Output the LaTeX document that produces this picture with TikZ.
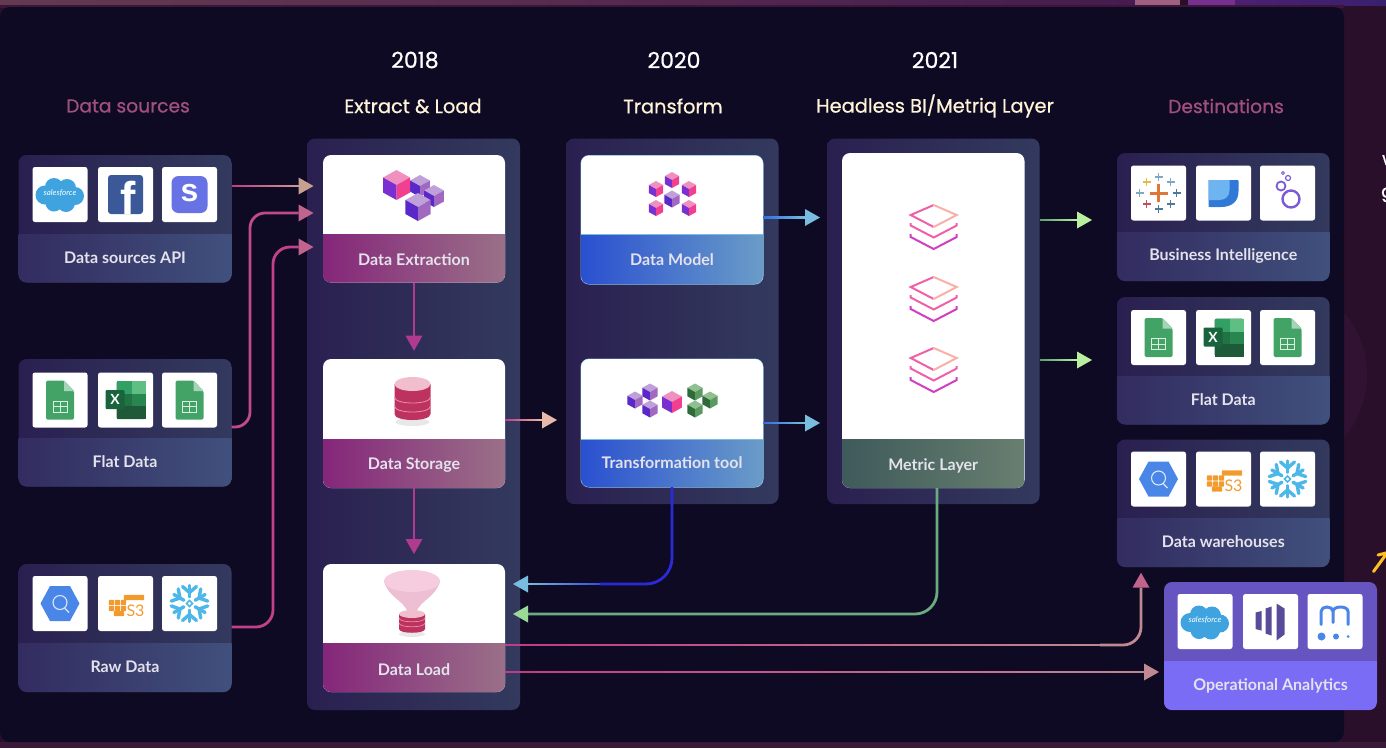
\documentclass[tikz,border=0pt]{standalone}
\usepackage{fontspec}
\usetikzlibrary{arrows.meta,calc,shapes.geometric}
\setmainfont{Lato}
\newfontfamily\headfont[RawFeature={embolden=0.7}]{Poppins}
\newcommand{\sz}[1]{\fontsize{#1}{#1}\selectfont}
\definecolor{bgmain}{HTML}{0F0A24}
\definecolor{bgout}{HTML}{2A0F2A}
\definecolor{panL}{HTML}{2A2050}
\definecolor{panR}{HTML}{333A5E}
\definecolor{capL}{HTML}{332C60}
\definecolor{capR}{HTML}{40507C}
\definecolor{mauve}{HTML}{A0507F}
\definecolor{cream}{HTML}{FFF4D8}
\definecolor{magL}{HTML}{85267A}
\definecolor{magR}{HTML}{9A7088}
\definecolor{bluL}{HTML}{2A50D0}
\definecolor{bluR}{HTML}{6A9CC8}
\definecolor{metL}{HTML}{3E5A5A}
\definecolor{metR}{HTML}{687F70}
\definecolor{opT}{HTML}{6655C0}
\definecolor{opB}{HTML}{7B6CF5}
\definecolor{labc}{HTML}{E4E2EC}
\definecolor{pinkA}{HTML}{C23A88}
\definecolor{pinkB}{HTML}{C8A090}
\definecolor{pinkC}{HTML}{C0648E}
\definecolor{pinkD}{HTML}{B03A90}
\definecolor{peach}{HTML}{E8B8A8}
\definecolor{dusty}{HTML}{C08890}
\definecolor{skyA}{HTML}{3070E0}
\definecolor{skyB}{HTML}{78BCE0}
\definecolor{grnA}{HTML}{5AA070}
\definecolor{grnB}{HTML}{B8F0A0}
\definecolor{grnC}{HTML}{9AD898}
\definecolor{grnD}{HTML}{6AAC80}
\definecolor{indg}{HTML}{2A2AD8}
\definecolor{indm}{HTML}{3A50E0}
\definecolor{sfblue}{HTML}{3FA3E0}
\definecolor{gsheet}{HTML}{43A366}
\definecolor{gsheetl}{HTML}{A5D4B6}
\definecolor{gridc}{HTML}{D9EFE0}
\definecolor{snow}{HTML}{4CB8EA}
\definecolor{awsor}{HTML}{F29A2E}
\definecolor{bqblue}{HTML}{4A86E8}
\definecolor{bqline}{HTML}{DCE8FB}
\definecolor{lookv}{HTML}{7A5BD8}
\definecolor{mktv}{HTML}{5A4A9A}
\definecolor{fbblue}{HTML}{3B5998}
\definecolor{stripev}{HTML}{6772E5}
\definecolor{dbred}{HTML}{BE325F}
\definecolor{dbtop}{HTML}{F0BECD}
\definecolor{dbline}{HTML}{E890AC}
\definecolor{shadowg}{HTML}{E8E8E8}
\definecolor{fn1}{HTML}{EEBED2}
\definecolor{fn2}{HTML}{F5CDDE}
\definecolor{xl1}{HTML}{217346}
\definecolor{xl2}{HTML}{5FBE82}
\definecolor{xl3}{HTML}{32A064}
\definecolor{xl4}{HTML}{288750}
\definecolor{xl5}{HTML}{1E5A37}
\definecolor{xl6}{HTML}{19643C}
\definecolor{ds1}{HTML}{3278D7}
\definecolor{ds2}{HTML}{6EB4F0}
\definecolor{taO}{HTML}{E0773A}
\definecolor{taY}{HTML}{E8B84A}
\definecolor{taB}{HTML}{7FA8C4}
\definecolor{taN}{HTML}{4F7899}
\definecolor{taR}{HTML}{C0505A}
\definecolor{stk1}{HTML}{F060A8}
\definecolor{stk2}{HTML}{D040C0}
\definecolor{stk3}{HTML}{F8B0A8}
\definecolor{yarrow}{HTML}{FFC020}
\tikzset{
  box/.style={inner sep=0pt,outer sep=0pt,rounded corners=8pt,draw=none},
  panelbox/.style={box,left color=panL,right color=panR},
  whitebox/.style={box,fill=white},
  opbox/.style={box,fill=opT},
  tile/.style={inner sep=0pt,outer sep=0pt,rounded corners=2.5pt,fill=white,minimum width=55pt,minimum height=55pt},
  caplab/.style={inner sep=0pt,text=labc,font=\bfseries\sz{16}},
  yearlab/.style={inner sep=0pt,text=white,font=\headfont\sz{22}},
  stagelab/.style={inner sep=0pt,text=cream,font=\headfont\sz{19.4}},
  endlab/.style={inner sep=0pt,text=mauve,font=\headfont\sz{18.7}},
  conn/.style={line width=2.8pt,-{Triangle[length=15pt,width=17pt,line width=0pt,color=#1,fill=#1]}},
  cable/.style={line width=2.8pt},
  capsrc/.style={left color=capL,right color=capR},
  capmag/.style={left color=magL,right color=magR},
  capblu/.style={left color=bluL,right color=bluR},
  capmet/.style={left color=metL,right color=metR},
  capop/.style={fill=opB},
}
\newcommand{\capdy}{.5}
% {name}{x1}{y1}{x2}{y2}{style}
\newcommand{\rbox}[6]{\node[#6,minimum width={(#4-#2)*1pt},minimum height={(#5-#3)*1pt}] (#1) at ({(#2+#4)/2},{(#3+#5)/2}) {};}
% {name}{x1}{y1}{x2}{y2}{ysplit}{body style}{caption style}{text}
\newcommand{\card}[9]{%
  \rbox{#1}{#2}{#3}{#4}{#5}{#7}
  \begin{scope}
    \clip[rounded corners=8pt] (#2,#3) rectangle (#4,#5);
    \path[#8] (#2,#6) rectangle (#4,#5);
  \end{scope}
  \node[caplab] (#1-cap) at ({(#2+#4)/2},{(#6+#5)/2+\capdy}) {#9};
}
\newcommand{\tileat}[3]{\node[tile] (#1) at (#2,#3) {};}
% straight gradient connector piece
\newcommand{\gradseg}[4]{%
  \foreach \i in {0,...,19}{%
    \pgfmathsetmacro{\mixv}{\i*5}
    \pgfmathsetmacro{\ta}{\i/20}\pgfmathsetmacro{\tb}{min((\i+1.7)/20,1)}
    \colorlet{segc}{#4!\mixv!#3}
    \draw[cable,segc] ($(#1)!\ta!(#2)$) -- ($(#1)!\tb!(#2)$);
  }%
}
% {from}{tip}{colA}{colB}: gradient line with an arrowhead
\newcommand{\gradarrow}[4]{%
  \coordinate (gx) at ($(#2)!16pt!(#1)$);
  \gradseg{#1}{gx}{#3}{#4}
  \draw[conn=#4,#4] (gx) -- (#2);
}
% iso cube {cx}{cy}{s}{top}{left}{right}
\newcommand{\cube}[6]{%
  \fill[#4] (#1,#2-#3) -- (#1+#3*.9,#2-#3*.5) -- (#1,#2) -- (#1-#3*.9,#2-#3*.5) -- cycle;
  \fill[#5] (#1-#3*.9,#2-#3*.5) -- (#1,#2) -- (#1,#2+#3) -- (#1-#3*.9,#2+#3*.5) -- cycle;
  \fill[#6] (#1+#3*.9,#2-#3*.5) -- (#1,#2) -- (#1,#2+#3) -- (#1+#3*.9,#2+#3*.5) -- cycle;
}
\definecolor{cubT}{HTML}{F090C0}\definecolor{cubL}{HTML}{7A30D0}\definecolor{cubR}{HTML}{F0408F}
\definecolor{cuvT}{HTML}{C0A0D8}\definecolor{cuvL}{HTML}{5A28C8}\definecolor{cuvR}{HTML}{A068C0}
\definecolor{cugT}{HTML}{90C090}\definecolor{cugL}{HTML}{2E6A3A}\definecolor{cugR}{HTML}{5A9A60}
\newcommand{\pinkcube}[3]{\cube{#1}{#2}{#3}{cubT}{cubL}{cubR}}
\newcommand{\violcube}[3]{\cube{#1}{#2}{#3}{cuvT}{cuvL}{cuvR}}
\newcommand{\greencube}[3]{\cube{#1}{#2}{#3}{cugT}{cugL}{cugR}}
% icons, centred
\newcommand{\icsales}[2]{\begin{scope}[shift={(#1,#2)}]
  \fill[sfblue] (-15,1) circle (9.5) (-6,-7) circle (9) (7,-6) circle (9) (15,2) circle (9) (6,9) circle (9) (-6,9) circle (8.5) (0,1) circle (12);
  \node[inner sep=0pt,text=white,font=\itshape\sz{8}] at (0,-1) {salesforce};
\end{scope}}
\newcommand{\icfb}[2]{\begin{scope}[shift={(#1,#2)}]
  \fill[fbblue,rounded corners=3pt] (-17.5,-19.5) rectangle (17.5,19.5);
  \begin{scope}
  \clip[rounded corners=3pt] (-17.5,-19.5) rectangle (17.5,19.5);
  \node[inner sep=0pt,text=white,font=\fontspec{Liberation Sans}\bfseries\sz{46}] at (3,3.5) {f};
  \end{scope}
\end{scope}}
\newcommand{\icstripe}[2]{\begin{scope}[shift={(#1,#2)}]
  \fill[stripev,rounded corners=7pt] (-18,-18.5) rectangle (18,18.5);
  \node[inner sep=0pt,text=white,font=\fontspec{Liberation Sans}\bfseries\sz{32}] at (0,-1) {s};
\end{scope}}
\newcommand{\icsheet}[2]{\begin{scope}[shift={(#1,#2)}]
  \fill[gsheet,rounded corners=1.5pt] (-14,-19.5) -- (4,-19.5) -- (14,-9) -- (14,19.5) -- (-14,19.5) -- cycle;
  \fill[gsheetl] (4,-19.5) -- (14,-9) -- (4,-9) -- cycle;
  \draw[gridc,line width=1pt] (-7,1) rectangle (7,12) (-7,6.5) -- (7,6.5) (0,1) -- (0,12);
\end{scope}}
\newcommand{\icexcel}[2]{\begin{scope}[shift={(#1,#2)}]
  \fill[xl1,rounded corners=1.5pt] (-9,-19) rectangle (20,19);
  \fill[xl2] (6,-19) rectangle (20,-6);
  \fill[xl3] (-9,-19) rectangle (6,-6);
  \fill[xl4] (6,-6) rectangle (20,6);
  \fill[xl5] (-9,6) rectangle (20,19);
  \fill[xl6,rounded corners=1pt] (-20,-10) rectangle (-1,9);
  \node[inner sep=0pt,text=white,font=\bfseries\sz{14}] at (-10.5,-.5) {X};
\end{scope}}
\newcommand{\icbq}[2]{\begin{scope}[shift={(#1,#2)}]
  \fill[bqblue] (-19.5,0) -- (-10,-17.5) -- (10,-17.5) -- (19.5,0) -- (10,17.5) -- (-10,17.5) -- cycle;
  \draw[bqline,line width=1.1pt] (0,-1) circle (7) (5,5) -- (9,9);
\end{scope}}
\newcommand{\icsthree}[2]{\begin{scope}[shift={(#1,#2)}]
  \foreach \xx/\yy in {1/-6,6/-6,11/-6,16/-6,-14/-1,-8/-1,-2/-1,-14/5,-8/5,-2/5,-9/10,-4/10}{\fill[awsor,rounded corners=.8pt] (\xx-2.7,\yy-2.7) rectangle (\xx+2.7,\yy+2.7);}
  \node[inner sep=0pt,text=awsor,font=\sz{16}] at (10,7) {S3};
\end{scope}}
\newcommand{\icsnow}[2]{\begin{scope}[shift={(#1,#2)}]
  \foreach \a in {30,90,...,330}{%
    \draw[snow,line width=3.4pt,line cap=round,rotate=\a] (6.5,0) -- (18,0);
    \draw[snow,line width=3.4pt,line cap=round,rotate=\a] (17,-7) -- (11,0) -- (17,7);}
  \fill[white] (-5.5,0) -- (0,-5.5) -- (5.5,0) -- (0,5.5) -- cycle;
  \draw[snow,line width=1.6pt] (-3,0) -- (0,-3) -- (3,0) -- (0,3) -- cycle;
\end{scope}}
\newcommand{\plusmk}[3]{\draw[#3,line width=1.6pt] (#1-4,#2) -- (#1+4,#2) (#1,#2-4) -- (#1,#2+4);}
\newcommand{\ictab}[2]{\begin{scope}[shift={(#1,#2)}]
  \draw[taO,line width=3pt] (-9,0) -- (9,0) (0,-9) -- (0,9);
  \plusmk{-12}{-11}{taY}
  \plusmk{12}{-11}{taB}
  \plusmk{0}{-16}{taB}
  \plusmk{-19}{0}{taB}
  \plusmk{18}{0}{taN}
  \plusmk{-12}{11}{taR}
  \plusmk{12}{11}{taN}
  \plusmk{0}{16}{taN}
\end{scope}}
\newcommand{\icds}[2]{\begin{scope}[shift={(#1,#2)}]
  \fill[ds1] (-15,-13) -- (14,-13) .. controls (15,-13) and (15,-13) .. (15,-12) -- (15,-2) .. controls (15,9) and (8,14) .. (-3,14) -- (-13,14) .. controls (-15,14) and (-15,14) .. (-15,12) -- cycle;
  \fill[ds2] (-15,-13) -- (6,-13) -- (6,-3) .. controls (6,3) and (2,7) .. (-4,7) -- (-15,7) -- cycle;
\end{scope}}
\newcommand{\iclook}[2]{\begin{scope}[shift={(#1,#2)}]
  \draw[lookv,line width=2.4pt] (3.5,6) circle (8.5);
  \draw[lookv,line width=1.8pt] (-6.5,-7) circle (4.5);
  \draw[lookv,line width=1.2pt] (.5,-15) circle (2.5);
  \draw[lookv,line width=.8pt] (-4.5,-20) circle (1.5);
\end{scope}}
\newcommand{\icmkt}[2]{\begin{scope}[shift={(#1,#2)}]
  \fill[mktv] (-15,-9) -- (-9,-10.5) -- (-9,9) -- (-15,7.5) -- cycle;
  \fill[mktv] (-5,-13) -- (1,-15) -- (1,14) -- (-5,12) -- cycle;
  \fill[mktv] (6,-18) -- (14,-13) -- (14,13) -- (6,19) -- cycle;
\end{scope}}
\newcommand{\icmeta}[2]{\begin{scope}[shift={(#1,#2)}]
  \draw[bqblue,line width=3pt,line cap=round] (-14,3) -- (-14,-10) .. controls (-14,-16) and (-2,-16) .. (-2,-10) -- (-2,1) (-2,-10) .. controls (-2,-16) and (13,-16) .. (13,-10) -- (13,3);
  \fill[bqblue] (-13.5,15) circle (4) (1,15) circle (3) (13,15) circle (1.5);
\end{scope}}
\newcommand{\icstack}[2]{\begin{scope}[shift={(#1,#2)}]
  \draw[stk1,line width=2pt] (0,-23) -- (-23,-13) -- (0,-1);
  \draw[stk3,line width=2pt,line cap=round] (0,-23) -- (23,-13) -- (0,-1);
  \draw[stk1,line width=2pt] (-23,-5) -- (-23,-2.5) -- (0,9.5) -- (23,-2.5) -- (23,-5);
  \draw[stk2,line width=2pt] (-23,6) -- (-23,9) -- (0,21) -- (23,9) -- (23,6);
\end{scope}}
\newcommand{\icdb}[2]{\begin{scope}[shift={(#1,#2)}]
  \fill[shadowg] (0,24) ellipse (17 and 4);
  \fill[dbred] (-18,-14) -- (18,-14) -- (18,16) .. controls (18,24) and (-18,24) .. (-18,16) -- cycle;
  \draw[dbline,line width=.8pt] (-18,-1) .. controls (-18,7) and (18,7) .. (18,-1) (-18,8) .. controls (-18,16) and (18,16) .. (18,8);
  \fill[dbtop] (0,-14) ellipse (18 and 7);
\end{scope}}
\newcommand{\icfunnel}[2]{\begin{scope}[shift={(#1,#2)}]
  \fill[shadowg] (0,37) ellipse (13 and 3);
  \fill[dbred] (-13,17) -- (13,17) -- (13,32) .. controls (13,37) and (-13,37) .. (-13,32) -- cycle;
  \draw[dbline,line width=.7pt] (-13,21) .. controls (-13,26) and (13,26) .. (13,21) (-13,26) .. controls (-13,31) and (13,31) .. (13,26);
  \fill[dbtop] (0,17) ellipse (13 and 4);
  \fill[fn1] (-28,-16) .. controls (-24,0) and (-10,2) .. (-4,15) -- (4,15) .. controls (10,2) and (24,0) .. (28,-16) -- cycle;
  \fill[fn2] (0,-16) ellipse (28 and 11);
\end{scope}}
\begin{document}
\begin{tikzpicture}[x=1pt,y=-1pt]
\useasboundingbox (0,0) rectangle (1386,748);
\begin{scope}
\clip (0,0) rectangle (1386,748);
\fill[bgout] (0,0) rectangle (1386,748);
% faint background blobs
\fill[fill={rgb,255:red,50;green,18;blue,50}] (1270,375) circle (97);
\fill[fill={rgb,255:red,40;green,14;blue,42}] (1270,375) circle (60);
\fill[fill={rgb,255:red,58;green,26;blue,56}] (0,742) rectangle (1386,748);
\shade[left color={rgb,255:red,100;green,58;blue,80},right color={rgb,255:red,70;green,28;blue,80}] (0,0) rectangle (1135,5);
\fill[fill={rgb,255:red,160;green,96;blue,128}] (1135,0) rectangle (1180,5);
\fill[fill={rgb,255:red,120;green,48;blue,144}] (1188,0) rectangle (1235,5);
\shade[left color={rgb,255:red,76;green,32;blue,112},right color={rgb,255:red,56;green,32;blue,110}] (1235,0) rectangle (1386,5);
\fill[fill={rgb,255:red,58;green,22;blue,56}] (0,5) rectangle (1344,8);
\fill[bgmain,rounded corners=10pt] (0,7) rectangle (1344,742);
% cut-off text and arrow at the right edge
\node[anchor=west,inner sep=0pt,text=white,font=\headfont\sz{18}] (edgea) at (1382,160) {w};
\node[anchor=west,inner sep=0pt,text=white,font=\headfont\sz{18}] (edgeb) at (1381,195) {g};
\draw[yarrow,line width=3pt,line cap=round] (1373.5,571.5) -- (1390,549) (1378,555) -- (1390,552);
\end{scope}
% headers
\node[yearlab] (y18) at (415,60) {2018};
\node[yearlab] (y20) at (674,60) {2020};
\node[yearlab] (y21) at (935,60) {2021};
\node[endlab] (hsrc) at (128,106) {Data sources};
\node[stagelab] (hel) at (413,106) {Extract \& Load};
\node[stagelab] (htr) at (673,106) {Transform};
\node[stagelab] (hml) at (935,106) {Headless BI/Metriq Layer};
\node[endlab] (hdst) at (1226,106) {Destinations};
% big panels
\rbox{pel}{307}{138.5}{520}{710}{panelbox}
\rbox{ptr}{566}{138.5}{778.5}{504}{panelbox}
\rbox{pml}{827}{138.5}{1039.5}{504}{panelbox}
% source cards
\renewcommand{\capdy}{-.5}
\card{api}{18.5}{155}{231.5}{282.5}{234}{panelbox}{capsrc}{Data sources API}
\card{flat}{18.5}{359}{231.5}{486.5}{438}{panelbox}{capsrc}{Flat Data}
\card{raw}{18.5}{564}{231.5}{692}{643}{panelbox}{capsrc}{Raw Data}
% extract & load
\renewcommand{\capdy}{1.5}
\card{ext}{323}{155}{505}{282.5}{234.5}{whitebox}{capmag}{Data Extraction}
\card{sto}{323}{359}{505}{488}{439}{whitebox}{capmag}{Data Storage}
\renewcommand{\capdy}{2.5}
\card{lod}{323}{564}{505}{692}{643}{whitebox}{capmag}{Data Load}
% transform
\renewcommand{\capdy}{.5}
\draw[skyB,line width=1pt,rounded corners=8pt] (581,155.5) rectangle (763,284);
\card{mod}{581}{155.5}{763}{284}{234.5}{whitebox}{capblu}{Data Model}
\draw[skyB,line width=1pt] (mod.west |- 0,234.5) -- (mod.east |- 0,234.5);
\renewcommand{\capdy}{-.5}
\draw[skyB,line width=1pt,rounded corners=8pt] (581,359) rectangle (763,487);
\card{tfm}{581}{359}{763}{487}{439}{whitebox}{capblu}{Transformation tool}
\draw[skyB,line width=1pt] (tfm.west |- 0,439) -- (tfm.east |- 0,439);
% metric
\renewcommand{\capdy}{2.5}
\card{met}{842}{153}{1024.5}{488}{439.5}{whitebox}{capmet}{Metric Layer}
% destinations
\renewcommand{\capdy}{-.5}
\card{bi}{1117}{153}{1329.5}{281}{232.5}{panelbox}{capsrc}{Business Intelligence}
\card{fl2}{1117}{297}{1329.5}{424.5}{376}{panelbox}{capsrc}{Flat Data}
\card{dw}{1117}{439.5}{1329.5}{567}{518}{panelbox}{capsrc}{Data warehouses}
\renewcommand{\capdy}{.5}
\card{ops}{1164}{582}{1377}{710}{661}{opbox}{capop}{Operational Analytics}
% tiles
\tileat{t1}{60}{194.5}\tileat{t2}{125.5}{194.5}\tileat{t3}{189.5}{194.5}
\tileat{t4}{60}{400}\tileat{t5}{125.5}{400}\tileat{t6}{189.5}{400}
\tileat{t7}{60}{603.5}\tileat{t8}{125.5}{603.5}\tileat{t9}{189.5}{603.5}
\tileat{t10}{1158.5}{193}\tileat{t11}{1223.5}{193}\tileat{t12}{1287.5}{193}
\tileat{t13}{1158.5}{337.5}\tileat{t14}{1223.5}{337.5}\tileat{t15}{1287.5}{337.5}
\tileat{t16}{1158.5}{479}\tileat{t17}{1223.5}{479}\tileat{t18}{1287.5}{479}
\tileat{t19}{1205}{621.5}\tileat{t20}{1270.5}{621.5}\tileat{t21}{1335}{621.5}
% tile icons
\icsales{60}{194}\icfb{125.5}{194.5}\icstripe{189.5}{194.5}
\icsheet{60}{400}\icexcel{125.5}{400}\icsheet{189.5}{400}
\icbq{60}{603.5}\icsthree{125.5}{603.5}\icsnow{189.5}{603.5}
\ictab{1158.5}{193}\icds{1223.5}{193}\iclook{1287.5}{193}
\icsheet{1158.5}{337.5}\icexcel{1223.5}{337.5}\icsheet{1287.5}{337.5}
\icbq{1158.5}{479}\icsthree{1223.5}{479}\icsnow{1287.5}{479}
\icsales{1205}{621.5}\icmkt{1270.5}{621.5}\icmeta{1335}{621.5}
% main illustrations
\violcube{420}{186}{11}\violcube{434}{196}{11}\pinkcube{396.5}{185}{15}\violcube{418}{207}{14}
\pinkcube{672}{180}{8}\pinkcube{656}{189}{8}\pinkcube{689}{189}{8}\pinkcube{656}{208}{8}\pinkcube{689}{208}{8}\violcube{672}{199}{8.5}
\violcube{650}{392}{8.5}\violcube{635}{400}{8.5}\violcube{650}{409}{8.5}\pinkcube{672}{402}{11}
\greencube{695}{392}{8.5}\greencube{710}{400}{8.5}\greencube{695}{409}{8.5}
\icdb{412.5}{398}
\icfunnel{412}{597}
\icstack{933.7}{228}\icstack{933.7}{300}\icstack{933.7}{371}
% connectors
\coordinate (nA) at (250,427);
\coordinate (nB) at (250,213);
\coordinate (nC) at (273,627);
\coordinate (nD) at (273,247);
\coordinate (a1) at (api.east |- 0,186);
\coordinate (a2) at ($(ext.west |- 0,186)+(-9.5,0)$);
\gradarrow{a1}{a2}{pinkA}{pinkB}
\draw[conn=pinkC,pinkA!60!pinkC,rounded corners=15pt,shorten >=9.5pt] (flat.east |- nA) -- (nA) -- (nB) -- (ext.west |- nB);
\draw[conn=pinkC,pinkA!80!pinkC,rounded corners=17pt,shorten >=9.5pt] (raw.east |- nC) -- (nC) -- (nD) -- (ext.west |- nD);
\draw[conn=pinkD,pinkD,shorten >=8.3pt] (ext.south) -- (sto.north);
\draw[conn=pinkD,pinkD,shorten >=10pt] (sto.south) -- (lod.north);
\coordinate (s1) at (sto.east |- 0,420);
\coordinate (s2) at ($(tfm.west |- 0,420)+(-24,0)$);
\gradarrow{s1}{s2}{pinkA}{peach}
\coordinate (m1) at (mod.east |- 0,217.5);
\coordinate (m2) at ($(pml.west |- 0,217.5)+(-7,0)$);
\gradarrow{m1}{m2}{skyA}{skyB}
\coordinate (t1a) at (tfm.east |- 0,423);
\coordinate (t1b) at ($(pml.west |- 0,423)+(-7,0)$);
\gradarrow{t1a}{t1b}{skyA}{skyB}
\coordinate (g1) at (pml.east |- 0,220);
\coordinate (g2) at ($(bi.west |- 0,220)+(-25,0)$);
\gradarrow{g1}{g2}{grnA}{grnB}
\coordinate (g3) at (pml.east |- 0,360);
\coordinate (g4) at ($(fl2.west |- 0,360)+(-25,0)$);
\gradarrow{g3}{g4}{grnA}{grnB}
\coordinate (b1) at (672,584);
\coordinate (b2) at ($(lod.east |- 0,584)+(8,0)$);
\coordinate (b3) at (600,584);
\draw[cable,indg,rounded corners=26pt] (tfm.south) -- (b1) -- (b3);
\gradarrow{b3}{b2}{indm}{skyB}
\coordinate (c1) at (937,614);
\coordinate (c2) at ($(lod.east |- 0,614)+(8,0)$);
\draw[conn=grnC,grnD,rounded corners=22pt] (met.south -| c1) -- (c1) -- (c2);
\coordinate (d1) at (lod.east |- 0,645);
\coordinate (d2) at (1141,645);
\coordinate (d3) at (1100,645);
\gradseg{d1}{d3}{pinkA}{dusty}
\draw[conn=pinkC,dusty,rounded corners=18pt,shorten >=5.7pt] (d3) -- (d2) -- (dw.south -| d2);
\coordinate (e1) at (lod.east |- 0,672);
\coordinate (e2) at ($(ops.west |- 0,672)+(-5,0)$);
\gradarrow{e1}{e2}{pinkA}{dusty}
\end{tikzpicture}
\end{document}
